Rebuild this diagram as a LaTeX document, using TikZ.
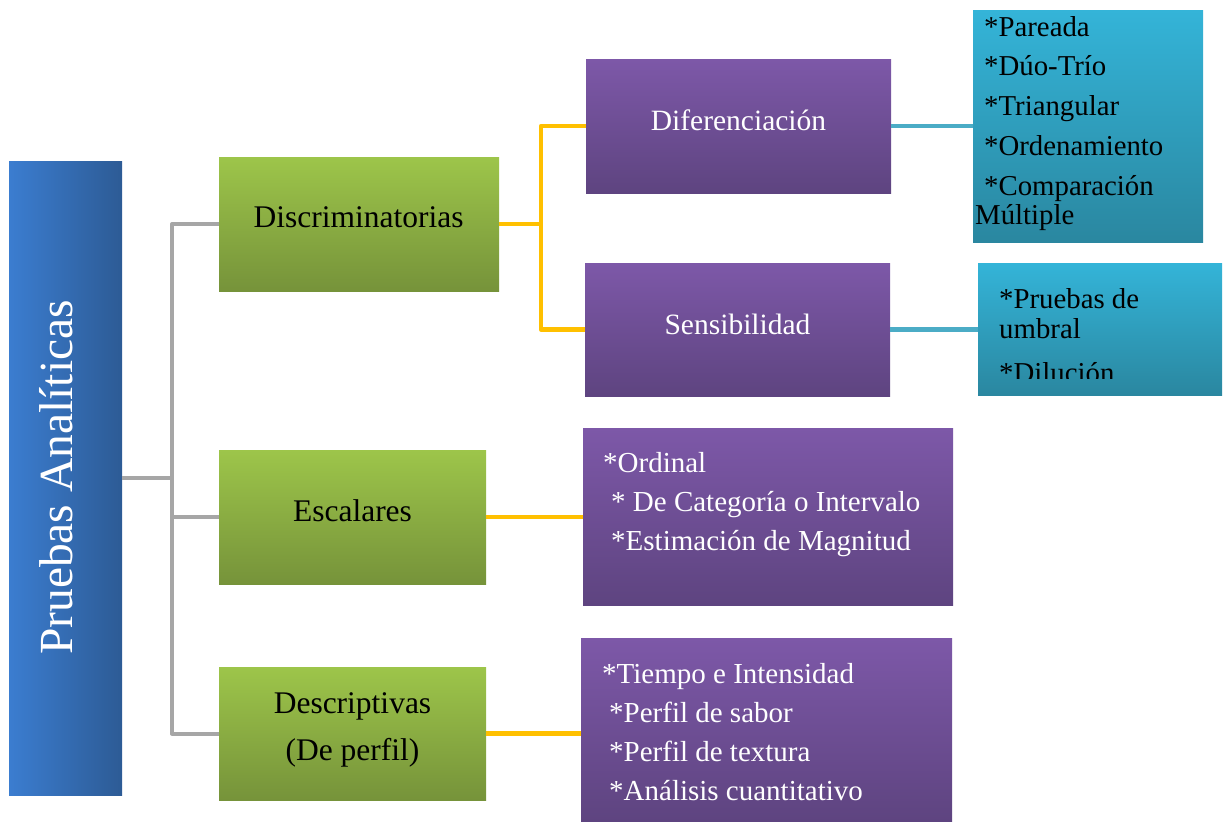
\documentclass[tikz,border=0pt]{standalone}
\usepackage{fontspec}
\setmainfont{Liberation Serif}
\definecolor{blueL}{HTML}{3B7DD0}
\definecolor{blueR}{HTML}{2D5B95}
\definecolor{greenT}{HTML}{9DC54A}
\definecolor{greenB}{HTML}{76933A}
\definecolor{purpT}{HTML}{7D58A8}
\definecolor{purpB}{HTML}{5E4480}
\definecolor{tealT}{HTML}{34B4D8}
\definecolor{tealB}{HTML}{2A87A0}
\definecolor{lineGray}{HTML}{A6A6A6}
\definecolor{lineOrange}{HTML}{FFC000}
\definecolor{lineTeal}{HTML}{4BACC6}
\begin{document}
\begin{tikzpicture}[x=1pt,y=-1pt,
  box/.style={rectangle, inner sep=0pt, draw=none},
  bluebox/.style={box, left color=blueL, right color=blueR},
  greenbox/.style={box, top color=greenT, bottom color=greenB},
  purplebox/.style={box, top color=purpT, bottom color=purpB},
  tealbox/.style={box, top color=tealT, bottom color=tealB},
  grayline/.style={draw=lineGray, line width=4pt, line join=round},
  orangeline/.style={draw=lineOrange, line width=4.5pt, line join=round},
  tealline/.style={draw=lineTeal, line width=4.5pt},
  greentxt/.style={font=\fontsize{31.5}{47}\selectfont, text=black, inner sep=0pt, anchor=base},
  purptxt/.style={font=\fontsize{29.5}{40}\selectfont, text=white, inner sep=0pt, anchor=base},
  listtxt/.style={font=\fontsize{29}{39}\selectfont, inner sep=0pt, anchor=north west, align=left},
]
\useasboundingbox (0,0) rectangle (1224,822);

% boxes
\node[bluebox, minimum width=113pt, minimum height=634pt] (pa) at (65.5,478) {};
\node[greenbox, minimum width=280pt, minimum height=134pt] (disc) at (359,224) {};
\node[greenbox, minimum width=267pt, minimum height=134pt] (esc) at (352.5,517) {};
\node[greenbox, minimum width=267pt, minimum height=133pt] (desc) at (352.5,733.5) {};
\node[purplebox, minimum width=305pt, minimum height=134pt] (dif) at (738.5,126) {};
\node[purplebox, minimum width=305pt, minimum height=133pt] (sen) at (737.5,329.5) {};
\node[purplebox, minimum width=370pt, minimum height=177pt] (escl) at (768,516.5) {};
\node[purplebox, minimum width=371pt, minimum height=183pt] (descl) at (766.5,729.5) {};
\node[tealbox, minimum width=230pt, minimum height=232pt] (t1) at (1088,126) {};
\node[tealbox, minimum width=244pt, minimum height=132pt] (t2) at (1100,329) {};

% connectors
\coordinate (gt) at (172,478);
\draw[grayline] (pa.east) -- (gt);
\draw[grayline] (disc.west) -| (gt) |- (desc.west);
\draw[grayline] (esc.west) -- (esc.west -| gt);

\coordinate (ot) at (541,224);
\draw[orangeline] (disc.east) -- (ot);
\draw[orangeline] (dif.west) -| (ot) |- (sen.west);
\draw[orangeline] (esc.east) -- (esc.east -| escl.west);
\draw[orangeline] (desc.east) -- (desc.east -| descl.west);

\draw[tealline] (dif.east) -- (dif.east -| t1.west);
\draw[tealline] (sen.east) -- (sen.east -| t2.west);

% texts
\node[rotate=90, anchor=base, text=white, inner sep=0pt,
      font=\fontsize{47.5}{50}\selectfont] (pat) at (72,477.5) {Pruebas Analíticas};
\node[greentxt] (disct) at (358.5,227) {Discriminatorias};
\node[greentxt] (esct) at (352.5,521) {Escalares};
\node[greentxt, anchor=north, align=center] (desct) at (352.5,683)
  {\rule{0pt}{30pt}Descriptivas\\(De perfil)};
\node[purptxt] (dift) at (738.5,130) {Diferenciación};
\node[purptxt] (sent) at (737.5,334) {Sensibilidad};

\node[listtxt, text=white] (esclt) at (603,442)
  {\rule{0pt}{30pt}*Ordinal\\
   \hspace*{8pt}* De Categoría o Intervalo\\
   \hspace*{8pt}*Estimación de Magnitud};
\node[listtxt, text=white] (desclt) at (602,653)
  {\rule{0pt}{30pt}*Tiempo e Intensidad\\
   \hspace*{7pt}*Perfil de sabor\\
   \hspace*{7pt}*Perfil de textura\\
   \hspace*{7pt}*Análisis cuantitativo};
\node[listtxt, text=black, font=\fontsize{28.8}{39.7}\selectfont] (t1t) at (975,6)
  {\rule{0pt}{30pt}\hspace*{9pt}*Pareada\\
   \hspace*{9pt}*Dúo-Trío\\
   \hspace*{9pt}*Triangular\\
   \hspace*{9pt}*Ordenamiento\\
   \hspace*{9pt}*Comparación\\[-10.7pt]
   Múltiple};
\begin{scope}
  \clip (978,263) rectangle (1222,378);
  \node[listtxt, text=black, font=\fontsize{28.8}{40}\selectfont] (t2t) at (999,278)
    {\rule{0pt}{30pt}*Pruebas de\\[-10pt]
     umbral\\[4pt]
     *Dilución};
\end{scope}
\end{tikzpicture}
\end{document}
